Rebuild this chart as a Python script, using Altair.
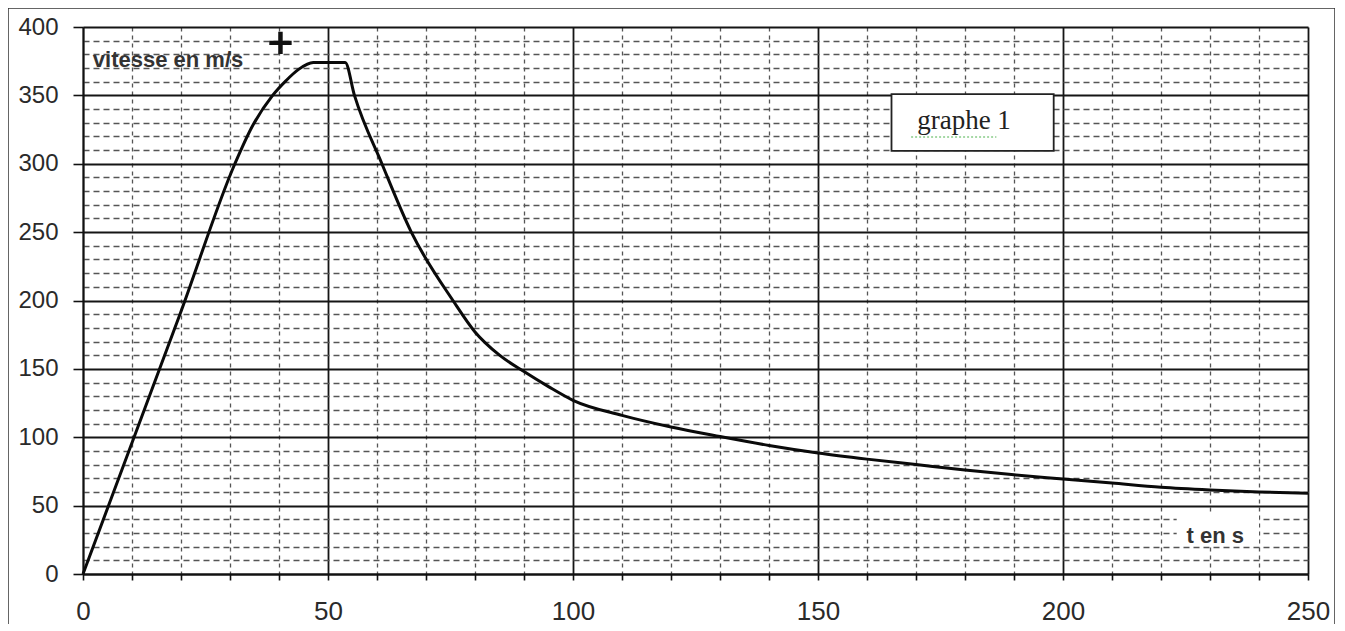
import altair as alt
import pandas as pd

# ---- data ----
t_s = [0, 10, 20, 31, 34.5, 38.7, 41.5, 44, 47, 53.5, 55.4, 61, 67, 75.5, 80, 85, 90, 95,
       100, 110, 120, 130, 140, 150, 160, 170, 180, 190, 200, 210, 220, 230, 240, 250]
v_ms = [0, 96, 192, 300, 327, 350, 361, 369, 374, 374, 350, 300, 250, 200, 177, 160, 148, 137,
        127, 116, 107.5, 100.5, 94, 88.5, 84, 80, 76, 72.5, 69.5, 66.5, 63.5, 61.5, 60, 59]

x_ticks = list(range(0, 251, 10))
y_ticks = list(range(0, 401, 10))

y_title = ["vitesse en m/s"]
x_title = ["t en s"]
box_label = ["graphe 1"]

curve = pd.DataFrame({"t": t_s, "v": v_ms})

X = alt.Scale(domain=[0, 250], nice=False)
Y = alt.Scale(domain=[0, 400], nice=False)

major50 = "datum.value % 50 === 0"

x_axis = alt.Axis(
    values=x_ticks, title=None,
    labelExpr=f"{major50} ? datum.label : ''",
    labelOverlap=False, labelFlush=False,
    labelFont="Liberation Sans", labelFontSize=26, labelColor="#2a2a2a", labelPadding=18,
    tickSize=6, tickColor="#111", tickWidth=1.6,
    domainColor="#111", domainWidth=1.8,
    grid=True,
    gridDash={"condition": {"test": major50, "value": []}, "value": [4, 4]},
    gridColor={"condition": {"test": major50, "value": "#151515"}, "value": "#555"},
    gridWidth={"condition": {"test": major50, "value": 1.8}, "value": 1.3},
)
y_axis = alt.Axis(
    values=y_ticks, title=None,
    labelExpr=f"{major50} ? datum.label : ''",
    labelOverlap=False, labelFlush=False,
    labelFont="Liberation Sans", labelFontSize=24, labelColor="#2a2a2a", labelPadding=15,
    tickSize=10, tickColor="#111", tickWidth=1.6,
    tickOpacity={"condition": {"test": major50, "value": 1}, "value": 0},
    domainColor="#111", domainWidth=1.8,
    grid=True,
    gridDash={"condition": {"test": major50, "value": []}, "value": [6, 4]},
    gridColor={"condition": {"test": major50, "value": "#151515"}, "value": "#555"},
    gridWidth={"condition": {"test": major50, "value": 1.8}, "value": 1.3},
)


def XE(f):
    return alt.X(f, scale=X, axis=x_axis)


def YE(f):
    return alt.Y(f, scale=Y, axis=y_axis)


line = alt.Chart(curve).mark_line(color="#0a0a0a", strokeWidth=3, interpolate="monotone").encode(
    x=XE("t:Q"), y=YE("v:Q"))

# annotation: graphe 1 box
box_df = pd.DataFrame({"t1": [165], "t2": [198.1], "v1": [309.4], "v2": [350.9]})
box = alt.Chart(box_df).mark_rect(fill="white", stroke="#222", strokeWidth=1.8).encode(
    x=XE("t1:Q"), x2="t2:Q", y=YE("v1:Q"), y2="v2:Q")
box_text = alt.Chart(pd.DataFrame({"t": [179.8], "v": [331], "s": box_label})).mark_text(
    font="Liberation Serif", fontSize=27, color="#222", align="center", baseline="middle"
).encode(x=XE("t:Q"), y=YE("v:Q"), text="s:N")
squiggle = alt.Chart(pd.DataFrame({"t1": [169], "t2": [186.4], "v": [319.5]})).mark_rule(
    color="#8c8", strokeWidth=1.5, strokeDash=[2, 2]
).encode(x=XE("t1:Q"), x2="t2:Q", y=YE("v:Q"))

# x title with white background
xt_bg = alt.Chart(pd.DataFrame({"t1": [223.2], "t2": [240], "v1": [22], "v2": [44]})).mark_rect(
    fill="white").encode(x=XE("t1:Q"), x2="t2:Q", y=YE("v1:Q"), y2="v2:Q")
xt = alt.Chart(pd.DataFrame({"t": [225.2], "v": [27.5], "s": x_title})).mark_text(
    font="Liberation Sans", fontSize=22, fontWeight="bold", color="#333", align="left", baseline="middle"
).encode(x=XE("t:Q"), y=YE("v:Q"), text="s:N")

yt = alt.Chart(pd.DataFrame({"t": [2], "v": [376], "s": y_title})).mark_text(
    font="Liberation Sans", fontSize=22, fontWeight="bold", color="#333", align="left", baseline="middle"
).encode(x=XE("t:Q"), y=YE("v:Q"), text="s:N")

plus = alt.Chart(pd.DataFrame({"t": [40.3], "v": [388.4]})).mark_point(
    shape="M-1,-0.2H-0.2V-1H0.2V-0.2H1V0.2H0.2V1H-0.2V0.2H-1Z",
    size=500, filled=True, color="#111", opacity=1
).encode(x=XE("t:Q"), y=YE("v:Q"))

frame = alt.Chart(pd.DataFrame({"a": [0]})).mark_rect(
    fill=None, stroke="#333", strokeWidth=1.5
).encode(x=alt.value(-75), x2=alt.value(1252), y=alt.value(-19), y2=alt.value(700))

chart = alt.layer(line, box, box_text, squiggle, xt_bg, xt, yt, plus, frame).properties(
    width=1225, height=547,
    autosize=alt.AutoSizeParams(type="none"),
    padding={"left": 75, "top": 19, "right": 27, "bottom": 50},
).configure_view(stroke=None).configure(background="white")

chart.save("out.html", embed_options={"renderer": "svg", "actions": False})
